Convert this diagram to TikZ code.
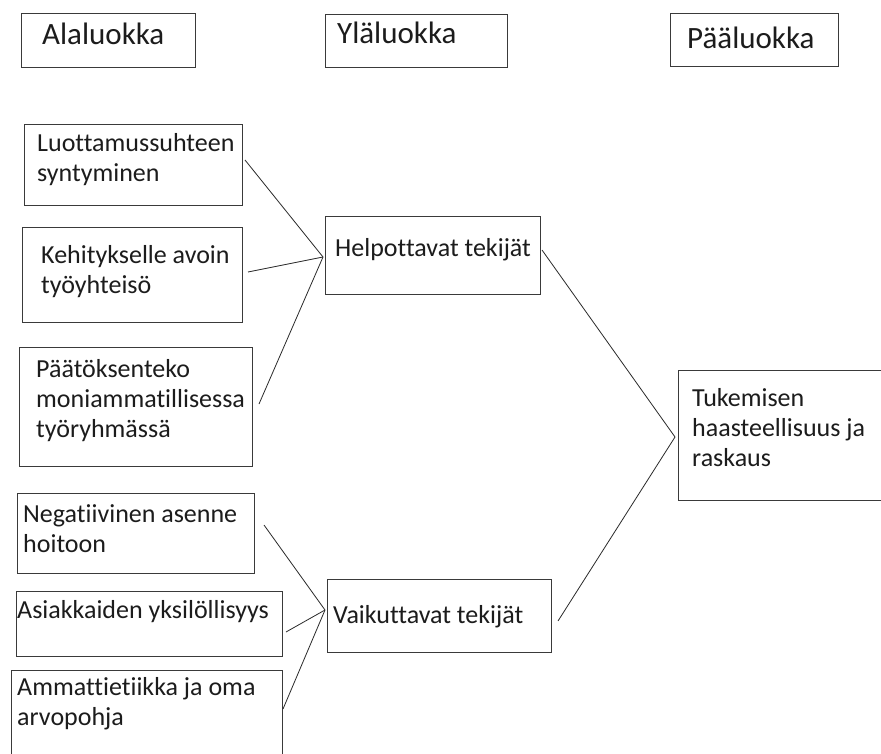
\documentclass[tikz,border=0pt]{standalone}
\usepackage{fontspec}
\setmainfont{Carlito}[Ligatures=NoCommon]
\begin{document}
\begin{tikzpicture}[x=1pt,y=-1pt,
  boxst/.style={draw=boxgray,line width=1.4pt,inner sep=0pt,anchor=north west},
  txt/.style={inner sep=0pt,anchor=base west,align=left,text=txtcol,font=\fontsize{26}{30}\selectfont},
  hdr/.style={inner sep=0pt,anchor=base west,text=txtcol,font=\fontsize{31}{36}\selectfont},
  conn/.style={draw=linecol,line width=0.8pt}]
\definecolor{boxgray}{HTML}{3A3A3A}
\definecolor{txtcol}{HTML}{1C1C1C}
\definecolor{linecol}{HTML}{2A2A2A}
\useasboundingbox (0,0) rectangle (881,754);
\clip (0,0) rectangle (881,754);
\fill[white] (0,0) rectangle (881,754);
% header boxes
\node[boxst,minimum width=174pt,minimum height=54pt] (ala) at (21,13) {};
\node[hdr] (alat) at (42,45) {Alaluokka};
\node[boxst,minimum width=182pt,minimum height=53pt] (yla) at (325,14) {};
\node[hdr] (ylat) at (337,44) {Yläluokka};
\node[boxst,minimum width=168pt,minimum height=53pt] (paa) at (670,13) {};
\node[hdr] (paat) at (687,49) {Pääluokka};
% left column, upper group (text nodes anchored at last line's baseline)
\node[boxst,minimum width=218pt,minimum height=81pt] (luo) at (24,124) {};
\node[txt] (luot) at (37,182) {Luottamussuhteen\\syntyminen};
\node[boxst,minimum width=220pt,minimum height=95pt] (keh) at (22,227) {};
\node[txt] (keht) at (41,293) {Kehitykselle avoin\\työyhteisö};
\node[boxst,minimum width=233pt,minimum height=119pt] (pat) at (19,347) {};
\node[txt] (patt) at (36,437) {Päätöksenteko\\moniammatillisessa\\työryhmässä};
% middle
\node[boxst,minimum width=215pt,minimum height=78pt] (hel) at (325,216) {};
\node[txt] (helt) at (335,257) {Helpottavat tekijät};
\node[boxst,minimum width=224pt,minimum height=73pt] (vai) at (327,579) {};
\node[txt] (vait) at (333,623) {Vaikuttavat tekijät};
% right
\node[boxst,minimum width=210pt,minimum height=130pt] (tuk) at (678,370) {};
\node[txt] (tukt) at (692,466) {Tukemisen\\haasteellisuus ja\\raskaus};
% left column, lower group
\node[boxst,minimum width=237pt,minimum height=80pt] (neg) at (17,493) {};
\node[txt] (negt) at (23,552) {Negatiivinen asenne\\hoitoon};
\node[boxst,minimum width=266pt,minimum height=65pt] (asi) at (16,591) {};
\node[txt] (asit) at (17,618) {Asiakkaiden yksilöllisyys};
\node[boxst,minimum width=271pt,minimum height=95pt] (amm) at (11,670) {};
\node[txt] (ammt) at (17,725) {Ammattietiikka ja oma\\arvopohja};
% connector ends
\coordinate (hubH) at (323,257);
\coordinate (hubV) at (325,610);
\coordinate (hubT) at (675,437);
\coordinate (luoR) at (245,160);
\coordinate (kehR) at (248,272);
\coordinate (patR) at (259,404);
\coordinate (helR) at (542,250);
\coordinate (vaiR) at (558,621);
\coordinate (negR) at (264,525);
\coordinate (asiR) at (286,632);
\coordinate (ammR) at (283,709);
\draw[conn] (luoR) -- (hubH);
\draw[conn] (kehR) -- (hubH);
\draw[conn] (patR) -- (hubH);
\draw[conn] (helR) -- (hubT);
\draw[conn] (vaiR) -- (hubT);
\draw[conn] (negR) -- (hubV);
\draw[conn] (asiR) -- (hubV);
\draw[conn] (ammR) -- (hubV);
\end{tikzpicture}
\end{document}
